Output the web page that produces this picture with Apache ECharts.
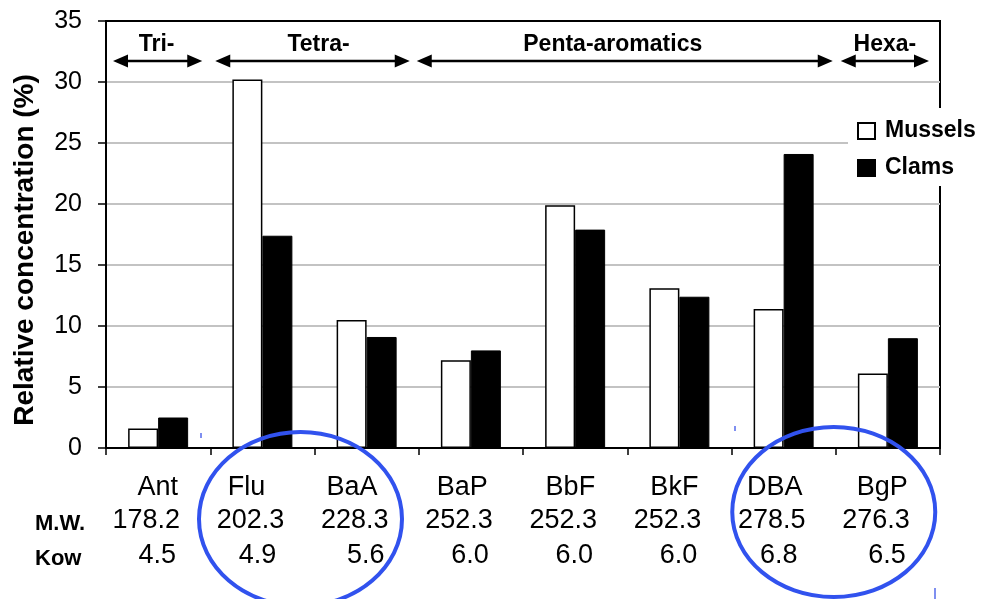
<!DOCTYPE html>
<html><head><meta charset="utf-8">
<script src="https://cdn.jsdelivr.net/npm/echarts@6/dist/echarts.min.js"></script>
<style>html,body{margin:0;padding:0;background:#fff}#c{width:984px;height:599px}</style>
</head><body><div id="c"></div>
<script>
const categories = ['Ant', 'Flu', 'BaA', 'BaP', 'BbF', 'BkF', 'DBA', 'BgP'];
const mussels = [1.6, 30.2, 10.5, 7.2, 19.9, 13.1, 11.4, 6.1];
const clams = [2.5, 17.4, 9.1, 8.0, 17.9, 12.4, 24.1, 9.0];
const molWeight = ['178.2', '202.3', '228.3', '252.3', '252.3', '252.3', '278.5', '276.3'];
const kow = ['4.5', '4.9', '5.6', '6.0', '6.0', '6.0', '6.8', '6.5'];
const yMin = 0, yMax = 35, yStep = 5;
const groupLabels = ['Tri-', 'Tetra-', 'Penta-aromatics', 'Hexa-'];
const groupFrom = [0, 1, 3, 7];
const groupTo = [1, 3, 7, 8];
const circled = [[1, 2], [6, 7]];

const FONT = "'Liberation Sans', Arial, Helvetica, sans-serif";
const chart = echarts.init(document.getElementById('c'), null, {renderer: 'canvas'});

const splitColors = [];
for (let v = yMin; v <= yMax; v += yStep) splitColors.push(v === yMax ? '#000' : '#c3c3c3');

chart.setOption({
  animation: false,
  backgroundColor: '#fff',
  grid: {left: 106, right: 44, top: 21, bottom: 151, show: true, borderColor: '#000', borderWidth: 2, backgroundColor: 'transparent'},
  legend: {
    orient: 'vertical', left: 848, top: 108, backgroundColor: '#fff',
    padding: [11, 10, 6, 9], itemWidth: 17, itemHeight: 16, itemGap: 13,
    icon: 'rect', selectedMode: false,
    textStyle: {fontSize: 23, fontWeight: 'bold', color: '#000', fontFamily: FONT, lineHeight: 24, padding: [0, 0, 0, 5]},
    data: ['Mussels', 'Clams']
  },
  xAxis: {
    type: 'category', data: categories,
    axisLine: {lineStyle: {color: '#000', width: 2}},
    axisTick: {show: true, length: 7, lineStyle: {color: '#000', width: 1.5}},
    axisLabel: {show: false}
  },
  yAxis: {
    type: 'value', min: yMin, max: yMax, interval: yStep,
    axisLine: {show: true, lineStyle: {color: '#000', width: 2}},
    axisTick: {show: true, length: 8, lineStyle: {color: '#000', width: 1.5}},
    axisLabel: {fontSize: 25, color: '#000', margin: 24, fontFamily: FONT},
    splitLine: {show: true, lineStyle: {color: splitColors, width: 2}}
  },
  series: [
    {name: 'Mussels', type: 'bar', data: mussels, barWidth: 30, barGap: '0%',
     itemStyle: {color: '#fff', borderColor: '#000', borderWidth: 1.5}, emphasis: {disabled: true}},
    {name: 'Clams', type: 'bar', data: clams, barWidth: 30, barGap: '0%',
     itemStyle: {color: '#000', borderColor: '#000', borderWidth: 1}, emphasis: {disabled: true}}
  ]
});

// annotations positioned from the axis scales
const cx = i => chart.convertToPixel({xAxisIndex: 0}, categories[i]);
const half = (cx(1) - cx(0)) / 2;
const bound = k => cx(0) - half + k * 2 * half;
const g = [];

function txt(text, x, y, size, bold, align) {
  g.push({type: 'text', x: x, y: y, z: 10, silent: true,
    style: {text: text, fontSize: size, fontWeight: bold ? 'bold' : 'normal', fontFamily: FONT,
      fill: '#000', align: align || 'center', verticalAlign: 'middle'}});
}

// y-axis title
g.push({type: 'text', x: 25, y: 250, rotation: Math.PI / 2, z: 10, silent: true,
  style: {text: 'Relative concentration (%)', fontSize: 28, fontWeight: 'bold', fontFamily: FONT,
    fill: '#000', align: 'center', verticalAlign: 'middle'}});

// table under the axis (right-aligned near each category centre, with the slight
// irregular nudges visible in the original layout)
const nameNudge = [0, -17, -9, -3, 0, -1, -1, 0];
const kowNudge = [0, -4, 0, 0, 0, 0, -4, 0];
for (let i = 0; i < categories.length; i++) {
  const c = cx(i);
  txt(categories[i], c + 20 + nameNudge[i], 488, 27, false, 'right');
  txt(molWeight[i], c + 22, 521, 27, false, 'right');
  txt(kow[i], c + 18 + kowNudge[i], 556, 27, false, 'right');
}
txt('M.W.', 35, 524, 22, true, 'left');
txt('Kow', 35, 559, 22, true, 'left');

// group arrows
const insetL = [7, 5, -2, 5], insetR = [8, 9, 3, 11];
const labelShift = [-1, 6, -12, 0];
const arrowY = 61;
function arrowHead(tipX, dir) {
  g.push({type: 'polygon', z: 10, silent: true,
    shape: {points: [[tipX, arrowY], [tipX + dir * 15, arrowY - 6.5], [tipX + dir * 15, arrowY + 6.5]]},
    style: {fill: '#000'}});
}
for (let k = 0; k < groupLabels.length; k++) {
  const x1 = bound(groupFrom[k]) + insetL[k];
  const x2 = bound(groupTo[k]) - insetR[k];
  g.push({type: 'line', z: 10, silent: true, shape: {x1: x1 + 8, y1: arrowY, x2: x2 - 8, y2: arrowY},
    style: {stroke: '#000', lineWidth: 2.6}});
  arrowHead(x1, 1);
  arrowHead(x2, -1);
  txt(groupLabels[k], (x1 + x2) / 2 + labelShift[k], 45, 23, true, 'center');
}

// blue ellipses
const ellShift = [-14, -2], ellY = [519, 512], ellRy = [87, 85];
for (let k = 0; k < circled.length; k++) {
  const mid = (cx(circled[k][0]) + cx(circled[k][1])) / 2;
  g.push({type: 'ellipse', z: 20, silent: true,
    shape: {cx: mid + ellShift[k], cy: ellY[k], rx: 101.5, ry: ellRy[k]},
    style: {fill: 'none', stroke: '#3152ee', lineWidth: 4}});
}

// small blue specks present in the picture
[[200, 433, 2, 5], [734, 426, 2, 5], [934, 588, 2, 11]].forEach(s => {
  g.push({type: 'rect', z: 20, silent: true, shape: {x: s[0], y: s[1], width: s[2], height: s[3]},
    style: {fill: '#7f8ff0'}});
});

chart.setOption({graphic: g});
</script>
</body></html>
